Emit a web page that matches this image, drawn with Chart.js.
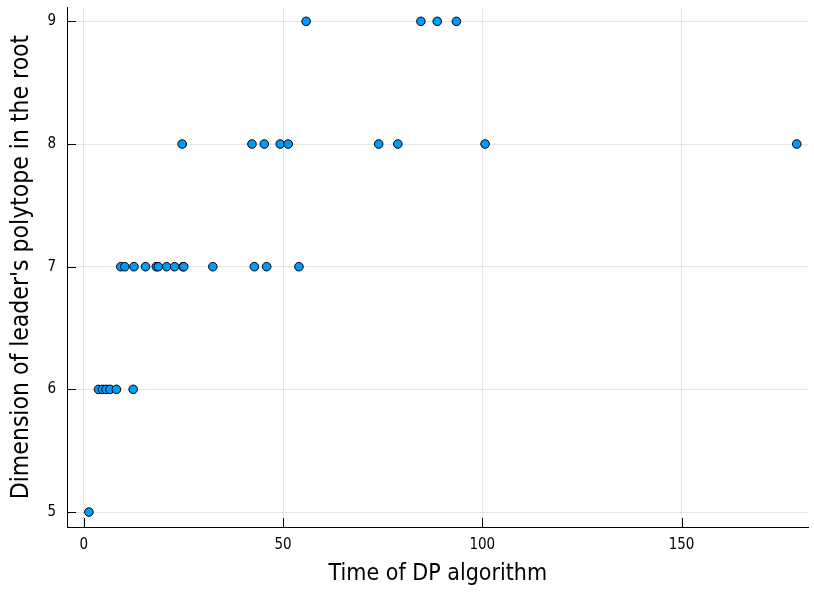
<!DOCTYPE html>
<html>
<head>
<meta charset="utf-8">
<script src="https://cdn.jsdelivr.net/npm/chart.js@4/dist/chart.umd.min.js"></script>
<style>
    html, body { margin: 0; padding: 0; background: #fff; }
    #wrap { width: 814px; height: 592px; position: relative; }
</style>
</head>
<body>
<div id="wrap"><canvas id="scatter-chart"></canvas></div>
<script>
// Data (x = time, y = dimension)
const dim5Times = [1.3];
const dim6Times = [3.7, 4.7, 5.6, 6.6, 8.2, 12.4];
const dim7Times = [9.3, 10.3, 12.6, 15.5, 18.2, 18.7, 20.8, 22.8, 24.9, 25.1, 32.4, 42.8, 45.9, 54.0];
const dim8Times = [24.7, 42.2, 45.3, 49.3, 51.3, 74.0, 78.8, 100.7, 178.9];
const dim9Times = [55.8, 84.6, 88.7, 93.5];

const xTicks = [0, 50, 100, 150];
const yTicks = [5, 6, 7, 8, 9];

const groups = [[5, dim5Times], [6, dim6Times], [7, dim7Times], [8, dim8Times], [9, dim9Times]];
const points = [];
groups.forEach(([dim, times]) => {
    times.forEach(t => points.push({ x: t, y: dim }));
});

const FONT = "'DejaVu Sans Condensed', 'Liberation Sans Narrow', sans-serif";

// GR-style inward tick marks
const innerTicks = {
    id: 'innerTicks',
    afterDatasetsDraw(chart) {
        const { ctx, chartArea, scales } = chart;
        ctx.save();
        ctx.strokeStyle = '#000';
        ctx.lineWidth = 1;
        ctx.beginPath();
        xTicks.forEach(v => {
            const px = Math.round(scales.x.getPixelForValue(v)) + 0.5;
            ctx.moveTo(px, chartArea.bottom);
            ctx.lineTo(px, chartArea.bottom - 9);
        });
        yTicks.forEach(v => {
            const py = Math.round(scales.y.getPixelForValue(v)) + 0.5;
            ctx.moveTo(chartArea.left, py);
            ctx.lineTo(chartArea.left + 9, py);
        });
        ctx.stroke();
        ctx.restore();
    }
};

const fixTicks = list => scale => {
    scale.ticks = list.map(v => ({ value: v }));
};

new Chart(document.getElementById('scatter-chart'), {
    type: 'scatter',
    data: {
        datasets: [{
            label: 'y1',
            data: points,
            backgroundColor: '#009af9',
            borderColor: '#000',
            borderWidth: 1,
            pointRadius: 4.3,
            pointHoverRadius: 4.3
        }]
    },
    options: {
        responsive: true,
        maintainAspectRatio: false,
        animation: false,
        layout: {
            padding: { top: 7, right: 1, left: 0, bottom: 0 }
        },
        plugins: {
            legend: { display: false },
            tooltip: { enabled: false }
        },
        scales: {
            x: {
                type: 'linear',
                min: -4.2,
                max: 181.9,
                afterBuildTicks: fixTicks(xTicks),
                afterFit(scale) {
                    scale.height = 65;
                    scale.paddingLeft = 0;
                    scale.paddingRight = 0;
                },
                grid: {
                    color: 'rgba(0,0,0,0.1)',
                    drawTicks: false
                },
                border: { color: '#000', width: 1 },
                ticks: {
                    color: '#000',
                    padding: 9,
                    maxRotation: 0,
                    font: { family: FONT, size: 15 }
                },
                title: {
                    display: true,
                    text: 'Time of DP algorithm',
                    color: '#000',
                    padding: { top: 0, bottom: 4 },
                    font: { family: FONT, size: 23 }
                }
            },
            y: {
                type: 'linear',
                min: 4.878,
                max: 9.117,
                afterBuildTicks: fixTicks(yTicks),
                afterFit(scale) {
                    scale.width = 67;
                    scale.paddingTop = 0;
                    scale.paddingBottom = 0;
                },
                grid: {
                    color: 'rgba(0,0,0,0.1)',
                    drawTicks: false
                },
                border: { color: '#000', width: 1 },
                ticks: {
                    color: '#000',
                    padding: 11,
                    font: { family: FONT, size: 15 }
                },
                title: {
                    display: true,
                    text: "Dimension of leader's polytope in the root",
                    color: '#000',
                    padding: { top: 7, bottom: 0 },
                    font: { family: FONT, size: 24.5 }
                }
            }
        }
    },
    plugins: [innerTicks]
});
</script>
</body>
</html>
